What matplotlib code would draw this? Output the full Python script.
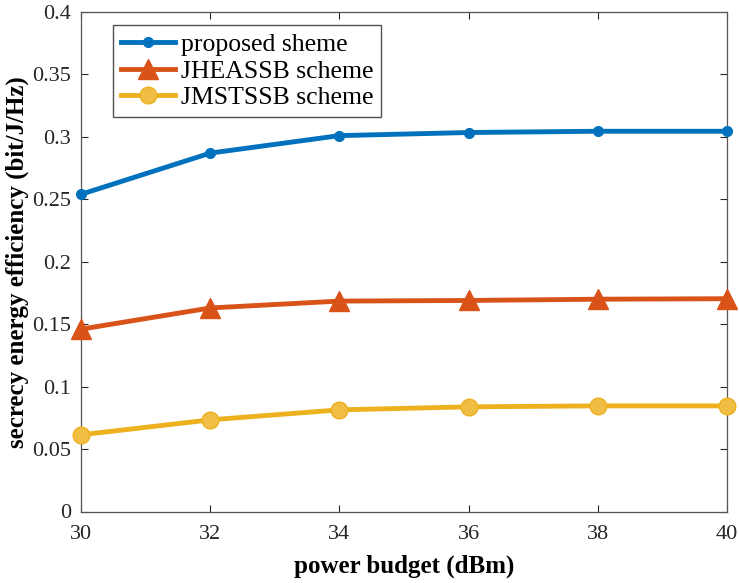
import numpy as np
import matplotlib.pyplot as plt

plt.rcParams['font.family'] = ['Liberation Serif', 'DejaVu Serif']

power_budget = [30, 32, 34, 36, 38, 40]
proposed = [0.254, 0.287, 0.301, 0.3035, 0.3045, 0.3045]
jheassb = [0.146, 0.163, 0.1685, 0.169, 0.170, 0.1704]
jmstssb = [0.0614, 0.0734, 0.0814, 0.0838, 0.0846, 0.0846]

fig = plt.figure(figsize=(7.39, 5.83), dpi=100)
ax = fig.add_axes([81 / 739, 1 - 511.5 / 583, 646 / 739, 499.5 / 583])

ax.plot(power_budget, proposed, color='#0072BD', lw=3.5, marker='o', ms=7,
        label='proposed sheme', clip_on=False, zorder=3)
ax.plot(power_budget, jheassb, color='#D95319', lw=3.5, marker='^', ms=15,
        label='JHEASSB scheme', clip_on=False, zorder=3)
ax.plot(power_budget, jmstssb, color='#EDB120', lw=3.5, marker='o', ms=12,
        mfc='#F0BE45', label='JMSTSSB scheme', clip_on=False, zorder=3)

ax.set_xlim(30, 40)
ax.set_ylim(0, 0.4)
ax.set_xticks(power_budget)
ax.set_yticks(np.arange(0, 0.41, 0.05))
ax.set_yticklabels(['0', '0.05', '0.1', '0.15', '0.2', '0.25', '0.3', '0.35', '0.4'])
ax.tick_params(direction='in', length=5, pad=7, labelsize=16, top=True, right=True,
               color='#262626', labelcolor='#262626')
ax.tick_params(axis='x', pad=10)
for s in ax.spines.values():
    s.set_color('#555555')
    s.set_linewidth(0.9)

ax.set_xlabel('power budget (dBm)', fontsize=18, fontweight='bold', labelpad=7)
ax.set_ylabel('secrecy energy efficiency (bit/J/Hz)', fontsize=18, fontweight='bold',
              labelpad=2)

leg = ax.legend(loc='upper left', bbox_to_anchor=(0.0495, 0.974), borderaxespad=0,
                fontsize=18.5, frameon=True, fancybox=False, handlelength=2.1,
                borderpad=0.3, labelspacing=0.15, handletextpad=0.25)
leg.get_frame().set_edgecolor('#262626')
leg.get_frame().set_linewidth(1.0)

fig.savefig('out.png', dpi=100)
